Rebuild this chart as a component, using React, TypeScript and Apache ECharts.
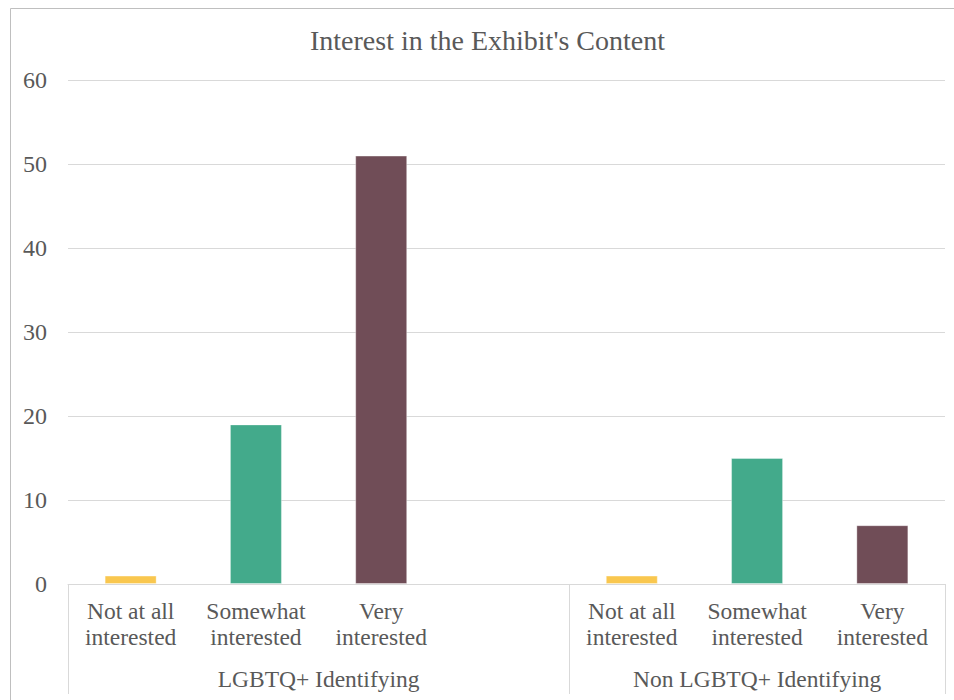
import React, { useEffect, useRef } from "react";
import * as echarts from "echarts";

const categories = [
  "Not at all\ninterested",
  "Somewhat\ninterested",
  "Very\ninterested",
  "",
  "Not at all\ninterested",
  "Somewhat\ninterested",
  "Very\ninterested",
];
const values: (number | string)[] = [1, 19, 51, "-", 1, 15, 7];
const barColors = ["#F9C74F", "#43AA8B", "#704D57", "#FFFFFF", "#F9C74F", "#43AA8B", "#704D57"];
const groupLabels = ["LGBTQ+ Identifying", "Non LGBTQ+ Identifying"];
const groupCenters = [2, 5.5];
const groupBounds = [0, 4, 7];
const yTicks = [0, 10, 20, 30, 40, 50, 60];

const FONT = "Liberation Serif";
const TXT = "#595959";

export default function App() {
  const ref = useRef<HTMLDivElement>(null);
  useEffect(() => {
    if (!ref.current) return;
    const chart = echarts.init(ref.current, undefined, { renderer: "svg" });
    chart.setOption({
      animation: false,
      backgroundColor: "#ffffff",
      textStyle: { fontFamily: FONT },
      title: {
        text: "Interest in the Exhibit's Content",
        left: 305,
        top: 21,
        textStyle: { fontFamily: FONT, fontSize: 28, fontWeight: "normal", color: TXT },
      },
      graphic: [
        {
          type: "rect",
          shape: { x: 10.5, y: 8.5, width: 1000, height: 1000 },
          style: { fill: "none", stroke: "#BFBFBF", lineWidth: 1 },
          silent: true,
          z: -1,
        },
      ],
      grid: { left: 68, right: 9, top: 80, bottom: 116, containLabel: false },
      xAxis: [
        {
          type: "category",
          data: categories,
          position: "bottom",
          axisLine: { show: true, lineStyle: { color: "#D9D9D9", width: 1 } },
          axisTick: { show: false },
          axisLabel: {
            interval: 0,
            margin: 14,
            fontFamily: FONT,
            fontSize: 23.5,
            lineHeight: 26,
            color: TXT,
          },
        },
        {
          type: "value",
          min: 0,
          max: 7,
          position: "bottom",
          axisLine: { show: false },
          splitLine: { show: false },
          axisTick: {
            show: true,
            customValues: groupBounds,
            length: 110,
            lineStyle: { color: "#D9D9D9", width: 1 },
          },
          axisLabel: {
            customValues: groupCenters,
            margin: 82,
            fontFamily: FONT,
            fontSize: 23.5,
            lineHeight: 26,
            color: TXT,
            formatter: (v: number) => {
              const i = groupCenters.indexOf(v);
              return i >= 0 ? groupLabels[i] : "";
            },
          },
        },
      ],
      yAxis: {
        type: "value",
        min: yTicks[0],
        max: yTicks[yTicks.length - 1],
        interval: 10,
        axisLine: { show: false },
        axisTick: { show: false },
        splitLine: { lineStyle: { color: "#D9D9D9", width: 1 } },
        axisLabel: { margin: 21, fontFamily: FONT, fontSize: 24, color: TXT },
      },
      series: [
        {
          type: "bar",
          xAxisIndex: 0,
          barWidth: 52,
          data: values.map((v, i) => ({
            value: v,
            itemStyle: { color: barColors[i], borderColor: "rgba(255,255,255,0.35)", borderWidth: 1 },
          })),
        },
      ],
    });
    return () => chart.dispose();
  }, []);
  return (
    <div
      ref={ref}
      style={{ position: "fixed", left: 0, top: 0, width: 954, height: 700 }}
    />
  );
}
